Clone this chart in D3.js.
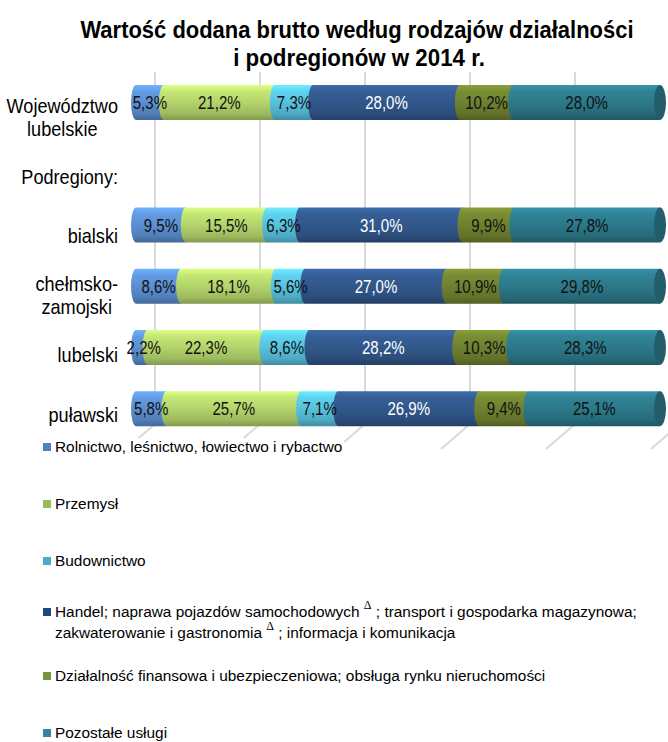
<!DOCTYPE html>
<html>
<head>
<meta charset="utf-8">
<script src="https://cdn.jsdelivr.net/npm/d3@7"></script>
<style>
  body { margin: 0; background: #fff; }
  svg { display: block; }
</style>
</head>
<body>
<script>
const categories = ["Województwo lubelskie", "Podregiony:", "bialski", "chełmsko-zamojski", "lubelski", "puławski"];
const catLines = [["Województwo", "lubelskie"], ["Podregiony:"], ["bialski"], ["chełmsko-", "zamojski"], ["lubelski"], ["puławski"]];

const seriesNames = [
	"Rolnictwo, leśnictwo, łowiectwo i rybactwo",
	"Przemysł",
	"Budownictwo",
	"Handel; naprawa pojazdów samochodowych Δ ; transport i gospodarka magazynowa;|zakwaterowanie i gastronomia Δ ; informacja i komunikacja",
	"Działalność finansowa i ubezpieczeniowa; obsługa rynku nieruchomości",
	"Pozostałe usługi"
];

const rolnictwo   = [5.3, null, 9.5, 8.6, 2.2, 5.8];
const przemysl    = [21.2, null, 15.5, 18.1, 22.3, 25.7];
const budownictwo = [7.3, null, 6.3, 5.6, 8.6, 7.1];
const handel      = [28.0, null, 31.0, 27.0, 28.2, 26.9];
const finanse     = [10.2, null, 9.9, 10.9, 10.3, 9.4];
const pozostale   = [28.0, null, 27.8, 29.8, 28.3, 25.1];
const seriesValues = [rolnictwo, przemysl, budownictwo, handel, finanse, pozostale];

const gridTicks = [0, 20, 40, 60, 80, 100];

const legendColors = ["#4F81BD", "#9BBB59", "#4BACC6", "#1F497D", "#77933C", "#31859C"];
const barColors = ["#5b8fd1", "#b3d36b", "#57c1dc", "#31578a", "#6f8130", "#2c7889"];
const labelColors = ["#111", "#111", "#111", "#fff", "#111", "#111"];

const w = 668, h = 742;
const FONT = "'Liberation Sans', Arial, sans-serif";

const svg = d3.select("body").append("svg")
	.attr("width", w)
	.attr("height", h)
	.style("font-family", FONT);

const defs = svg.append("defs");
barColors.forEach((c, i) => {
	const g = defs.append("linearGradient")
		.attr("id", "grad" + i)
		.attr("x1", 0).attr("y1", 0).attr("x2", 0).attr("y2", 1);
	const base = d3.color(c);
	[[0, base.brighter(0.6)], [0.18, base.brighter(0.25)], [0.5, base], [0.82, base.darker(0.35)], [1, base.darker(0.9)]]
		.forEach(([o, col]) => g.append("stop").attr("offset", o).attr("stop-color", col.formatHex()));
});

// condensed text: translate + horizontal squeeze
function squeezed(parent, tx, ty, sx) {
	return parent.append("text")
		.attr("transform", "translate(" + tx + "," + ty + ") scale(" + sx + ",1)");
}

// scales
const x = d3.scaleLinear().domain([0, 100]).range([136, 660]);
const xBack = d3.scaleLinear().domain([0, 100]).range([155, 680]);
const y = d3.scaleBand().domain(categories).range([71.9, 439.4]).paddingInner(0.43).paddingOuter(0.215);
const yLabel = d3.scalePoint().domain(categories).range([117, 415]);

// title
[["Wartość dodana brutto według rodzajów działalności", 357, 38, 0.935], ["i podregionów w 2014 r.", 359, 66, 0.95]].forEach(([txt, tx, ty, sx]) => {
	squeezed(svg, tx, ty, sx)
		.attr("text-anchor", "middle")
		.style("font-weight", "bold")
		.style("font-size", "23.5px")
		.attr("fill", "#000")
		.text(txt);
});

// gridlines (back wall + floor)
const wallTop = 72, wallBottom = 424, floorFront = 449;
svg.append("g").selectAll("path").data(gridTicks).enter()
	.append("path")
	.attr("d", d => "M" + xBack(d) + "," + wallTop + "L" + xBack(d) + "," + wallBottom + "L" + (xBack(d) - 29) + "," + floorFront)
	.attr("fill", "none")
	.attr("stroke", "#d9d9d9")
	.attr("stroke-width", 2);

// bars
const rx = 5;
const bars = svg.append("g");
categories.forEach((cat, ci) => {
	let cum = 0;
	const top = y(cat), bot = y(cat) + y.bandwidth(), ry = y.bandwidth() / 2;
	const g = bars.append("g");
	let last = -1;
	seriesValues.forEach((vals, si) => {
		const v = vals[ci];
		if (v == null) return;
		const a = x(cum), b = x(cum + v);
		g.append("path")
			.attr("d", "M" + a + "," + top + "L" + b + "," + top + "L" + b + "," + bot + "L" + a + "," + bot +
				"A" + rx + "," + ry + " 0 0 1 " + a + "," + top + "Z")
			.attr("fill", "url(#grad" + si + ")");
		cum += v;
		last = si;
	});
	if (last >= 0) {
		g.append("ellipse")
			.attr("cx", x(100)).attr("cy", top + ry)
			.attr("rx", rx + 1).attr("ry", ry)
			.attr("fill", d3.color(barColors[last]).darker(0.7).formatHex());
	}
	// labels
	cum = 0;
	seriesValues.forEach((vals, si) => {
		const v = vals[ci];
		if (v == null) return;
		squeezed(g, x(cum + v / 2) + (v < 4 ? 2 : 0), top + ry + 6.5, 0.86)
			.attr("text-anchor", "middle")
			.style("font-size", "17.5px")
			.attr("fill", labelColors[si])
			.text(d3.format(".1f")(v).replace(".", ",") + "%");
		cum += v;
	});
});

// category labels (right aligned block, lines centered)
const catG = svg.append("g");
categories.forEach((cat, ci) => {
	const lines = catLines[ci];
	const lh = 23;
	const sx = 0.93;
	let maxW = 0;
	const texts = lines.map((ln, li) => {
		const ty = yLabel(cat) - (lines.length - 1) * lh / 2 + li * lh + 7;
		const t = squeezed(catG, 0, ty, sx)
			.attr("text-anchor", "middle")
			.style("font-size", "19.5px")
			.attr("fill", "#000")
			.text(ln);
		maxW = Math.max(maxW, t.node().getComputedTextLength() * sx);
		return [t, ty];
	});
	texts.forEach(([t, ty]) => t.attr("transform", "translate(" + (118 - maxW / 2) + "," + ty + ") scale(" + sx + ",1)"));
});

// legend
const legendY = [447, 504, 561, 612, 676, 733];
const legend = svg.append("g").style("font-size", "15.4px");
seriesNames.forEach((name, i) => {
	const row = legend.append("g");
	row.append("rect")
		.attr("x", 43).attr("y", legendY[i] - 4)
		.attr("width", 8).attr("height", 8)
		.attr("fill", legendColors[i]);
	name.split("|").forEach((line, li) => {
		const t = row.append("text").attr("x", 55).attr("y", legendY[i] + 5 + li * 21).attr("fill", "#000");
		const parts = line.split("Δ");
		parts.forEach((p, pi) => {
			if (pi > 0) {
				t.append("tspan").attr("dy", -8).style("font-family", "'Liberation Serif', serif").style("font-size", "12px").text("Δ");
				t.append("tspan").attr("dy", 8).text(p);
			} else {
				t.append("tspan").text(p);
			}
		});
		if (i === 0) {
			const bb = t.node().getBBox();
			row.insert("rect", "text")
				.attr("x", bb.x - 2).attr("y", bb.y)
				.attr("width", bb.width + 4).attr("height", bb.height)
				.attr("fill", "#fff");
		}
	});
});
</script>
</body>
</html>
